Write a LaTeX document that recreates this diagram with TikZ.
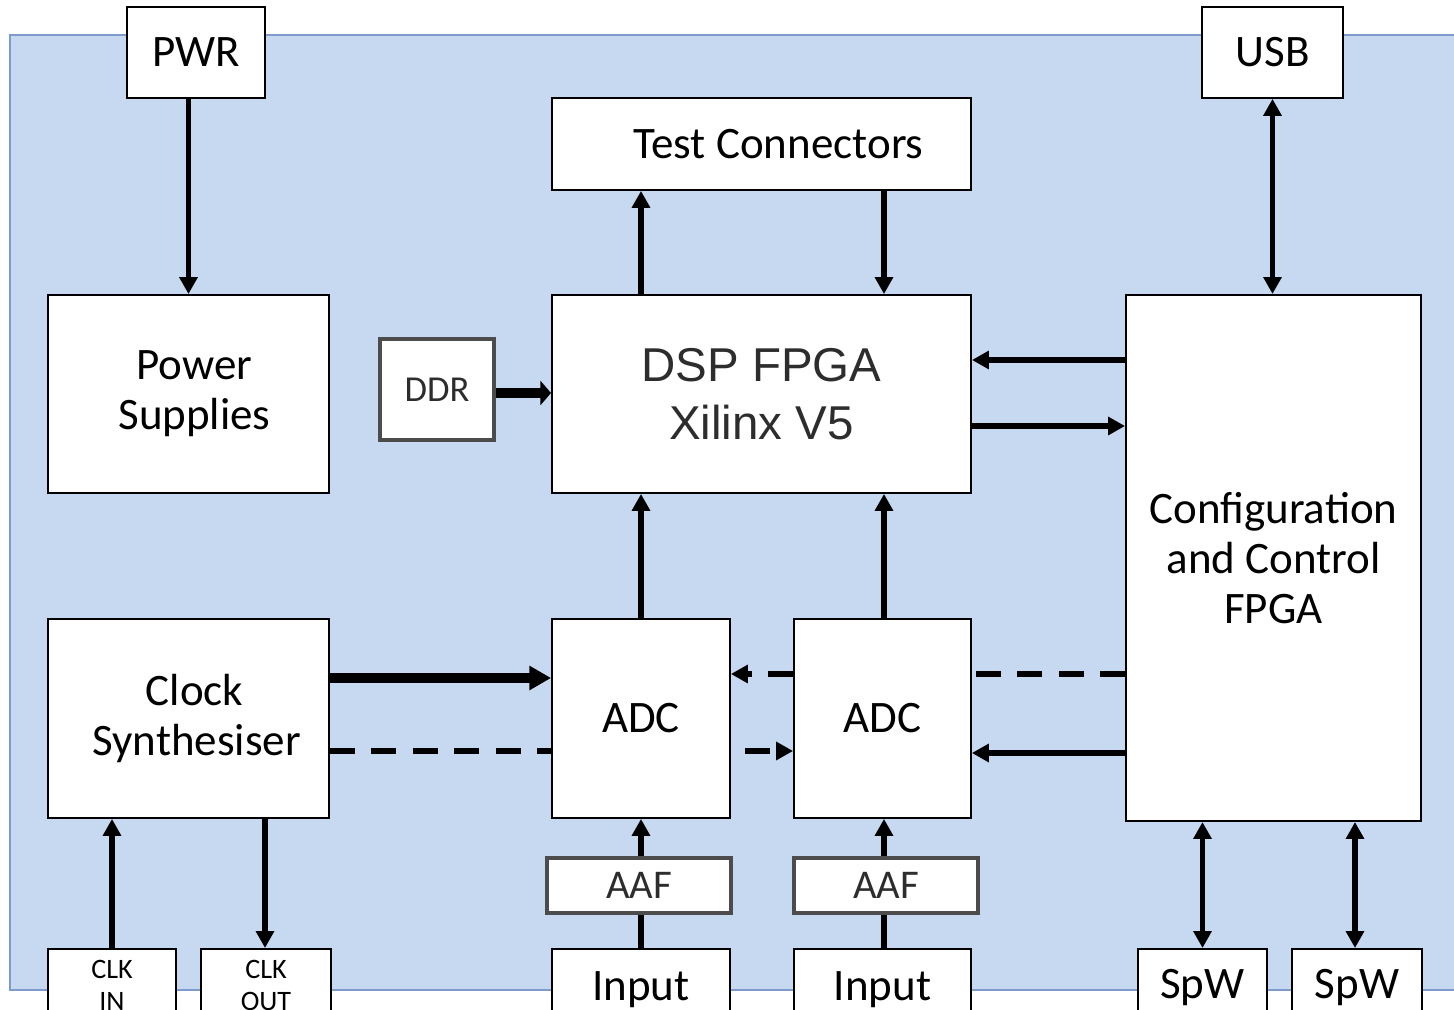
\documentclass[tikz,border=0pt]{standalone}
\usepackage{fontspec}
\setmainfont{Carlito}
\newfontfamily\arialfont{Liberation Sans}
\usetikzlibrary{arrows.meta}
\definecolor{boardfill}{RGB}{198,217,240}
\definecolor{boardline}{RGB}{125,155,205}
\definecolor{greytext}{RGB}{45,45,45}
\pgfdeclarelayer{board}
\pgfdeclarelayer{wires}
\pgfsetlayers{board,wires,main}

\begin{document}
\begin{tikzpicture}[x=0.01cm, y=-0.01cm,
		box/.style={draw=black, fill=white, line width=0.5pt, inner sep=0pt, align=center, font=\fontsize{12.8}{14.2}\selectfont},
		greybox/.style={box, draw=black!70, line width=1pt, text=greytext},
		plug/.style={box, anchor=north},
		wire/.style={line width=1.6pt, -{Triangle[length=4.8pt,width=5pt]}},
		twoway/.style={line width=1.6pt, {Triangle[length=4.8pt,width=5pt]}-{Triangle[length=4.8pt,width=5pt]}},
		fatwire/.style={line width=2.6pt, -{Triangle[length=6.2pt,width=6.6pt]}},
		dashwire/.style={wire, dash pattern=on 7pt off 4.8pt}]
			%%%%% START %%%%%
			
			\useasboundingbox (0,0) rectangle (1454,1010);
			\clip (0,0) rectangle (1454,1010);
			
			\begin{pgfonlayer}{board}
				\fill[boardfill] (10,35) rectangle (1460,990);
				\draw[boardline, line width=0.6pt] (10,35) rectangle (1460,990);
			\end{pgfonlayer}
			
			\node[box, minimum width=1.38cm, minimum height=0.91cm] (pwr) at (196,52.5) {PWR};
			\node[box, minimum width=1.41cm, minimum height=0.91cm] (usb) at (1272.5,52.5) {USB};
			\node[box, minimum width=2.81cm, minimum height=1.98cm] (psu) at (188.5,394) {\hspace*{0.12cm}Power\\\hspace*{0.12cm}Supplies};
			\node[box, minimum width=4.19cm, minimum height=0.92cm] (tc) at (761.5,144) {\hspace*{0.34cm}Test Connectors};
			\node[box, minimum width=4.19cm, minimum height=1.98cm, text=greytext, font=\arialfont\fontsize{13.5}{16.5}\selectfont] (dsp) at (761.5,394) {DSP FPGA\\Xilinx V5};
			\node[greybox, minimum width=1.14cm, minimum height=1.01cm, font=\fontsize{10.4}{12}\selectfont] (ddr) at (437,389.5) {DDR};
			\node[box, minimum width=2.95cm, minimum height=5.26cm] (cfg) at (1273.5,558) {Configuration\\and Control\\FPGA};
			
			\node[box, minimum width=2.81cm, minimum height=1.99cm] (clk) at (188.5,718.5) {\hspace*{0.12cm}Clock\\\hspace*{0.16cm}Synthesiser};
			\node[box, minimum width=1.78cm, minimum height=1.99cm] (adca) at (641,718.5) {ADC};
			\node[box, minimum width=1.77cm, minimum height=1.99cm] (adcb) at (882.5,718.5) {ADC};
			\node[greybox, minimum width=1.84cm, minimum height=0.55cm, font=\fontsize{11.6}{13}\selectfont] (aafa) at (639,885.5) {AAF};
			\node[greybox, minimum width=1.84cm, minimum height=0.55cm, font=\fontsize{11.6}{13}\selectfont] (aafb) at (886,885.5) {AAF};
			
			\node[plug, minimum width=1.28cm, minimum height=0.73cm, font=\fontsize{8}{9.1}\selectfont] (clkin) at (112,948) {CLK\\IN};
			\node[plug, minimum width=1.30cm, minimum height=0.73cm, font=\fontsize{8}{9.1}\selectfont] (clkout) at (266,948) {CLK\\OUT};
			\node[plug, minimum width=1.78cm, minimum height=0.82cm] (ina) at (641,948) {Input};
			\node[plug, minimum width=1.77cm, minimum height=0.82cm] (inb) at (882.5,948) {Input};
			\node[plug, minimum width=1.29cm, minimum height=0.78cm] (spwa) at (1202.5,948) {SpW};
			\node[plug, minimum width=1.30cm, minimum height=0.78cm] (spwb) at (1357,948) {SpW};
			
			\draw[wire] (psu.north |- pwr.south) -- (psu.north);
			\draw[twoway] (usb.south) -- (usb.south |- cfg.north);
			\draw[wire] (dsp.north -| 641,0) -- (tc.south -| 641,0);
			\draw[wire] (tc.south -| 884,0) -- (dsp.north -| 884,0);
			\draw[line width=2.6pt, -{Triangle[length=3pt,width=6.8pt]}] (ddr.east |- 0,393) -- (dsp.west |- 0,393);
			\draw[wire] (cfg.west |- 0,360) -- (dsp.east |- 0,360);
			\draw[wire] (dsp.east |- 0,426) -- (cfg.west |- 0,426);
			
			\draw[wire] (adca.north) -- (dsp.south -| adca.north);
			\draw[wire] (adcb.north -| 884,0) -- (dsp.south -| 884,0);
			\draw[fatwire] (clk.east |- 0,678) -- (adca.west |- 0,678);
			\draw[wire] (cfg.west |- 0,753) -- (adcb.east |- 0,753);
			\begin{pgfonlayer}{wires}
				\draw[dashwire] (clk.east |- 0,751) -- (adcb.west |- 0,751);
				\draw[dashwire] (cfg.west |- 0,674) -- (adca.east |- 0,674);
			\end{pgfonlayer}
			
			\draw[wire] (clkin.north) -- (clk.south -| clkin.north);
			\draw[wire] (clk.south -| 265,0) -- (clkout.north -| 265,0);
			\draw[wire] (aafa.north -| adca.south) -- (adca.south);
			\draw[line width=1.6pt] (ina.north) -- (aafa.south -| ina.north);
			\draw[wire] (aafb.north -| 884,0) -- (adcb.south -| 884,0);
			\draw[line width=1.6pt] (inb.north -| 884,0) -- (aafb.south -| 884,0);
			\draw[twoway] (spwa.north) -- (cfg.south -| spwa.north);
			\draw[twoway] (spwb.north -| 1355,0) -- (cfg.south -| 1355,0);
			
			%%%%% END %%%%%
\end{tikzpicture}
\end{document}
